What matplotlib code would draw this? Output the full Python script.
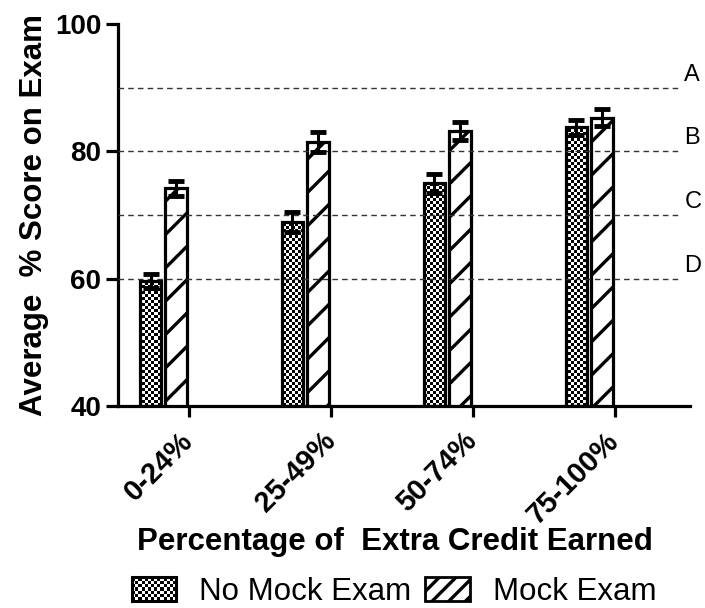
import matplotlib
matplotlib.use("Agg")
import matplotlib.pyplot as plt
import numpy as np
from matplotlib.patches import Patch, Rectangle
from matplotlib.legend_handler import HandlerPatch

plt.rcParams["font.family"] = ["Liberation Sans", "DejaVu Sans"]

categories = ["0-24%", "25-49%", "50-74%", "75-100%"]
no_mock = [59.7, 68.9, 75.0, 83.8]
no_mock_err = [1.1, 1.6, 1.5, 1.2]
mock = [74.2, 81.5, 83.2, 85.3]
mock_err = [1.2, 1.6, 1.4, 1.3]
grade_levels = [90, 80, 70, 60]
grade_labels = ["A", "B", "C", "D"]


class CheckerHandler(HandlerPatch):
    """Legend key drawn as a small checkerboard."""

    def create_artists(self, legend, orig_handle, xdescent, ydescent,
                       width, height, fontsize, trans):
        arts = []
        nx, ny = 14, 7
        cw, ch = width / nx, height / ny
        for i in range(nx):
            for j in range(ny):
                if (i + j) % 2 == 0:
                    arts.append(Rectangle((-xdescent + i * cw, -ydescent + j * ch),
                                          cw, ch, facecolor="black",
                                          edgecolor="none", transform=trans))
        arts.append(Rectangle((-xdescent, -ydescent), width, height,
                              facecolor="none", edgecolor="black", lw=2.2,
                              transform=trans))
        return arts


fig = plt.figure(figsize=(7.05, 6.08), dpi=100)
ax = fig.add_axes([118 / 705, (608 - 406) / 608, (690 - 118) / 705, 382 / 608])

x = np.arange(len(categories))
w = 0.152
x_no = x - 0.271
x_mk = x - 0.092

xlim = (-0.5, 3.53)
ylim = (40, 100)

# checkerboard texture, about 3 px per cell
checker = np.indices((127, 191)).sum(axis=0) % 2

plt.rcParams["hatch.linewidth"] = 2.4
bars_no = ax.bar(x_no, np.array(no_mock) - 40, w, bottom=40, facecolor="none",
                 edgecolor="black", lw=2.3, zorder=3)
for b in bars_no:
    im = ax.imshow(checker, extent=(*xlim, *ylim), cmap="gray_r",
                   interpolation="nearest", aspect="auto", zorder=2)
    im.set_clip_path(b)

ax.bar(x_mk, np.array(mock) - 40, w, bottom=40, facecolor="white",
       edgecolor="black", hatch="/", lw=2.3, zorder=3)

ax.errorbar(x_no, no_mock, yerr=no_mock_err, fmt="none", ecolor="black",
            elinewidth=2.2, capsize=6, capthick=3.5, zorder=5)
ax.errorbar(x_mk, mock, yerr=mock_err, fmt="none", ecolor="black",
            elinewidth=2.2, capsize=6, capthick=3.5, zorder=5)

ax.hlines(grade_levels, xlim[0], 3.45, colors="#333333", linestyles=(0, (4, 3)),
          lw=1.0, zorder=4)
for lvl, lab in zip(grade_levels, grade_labels):
    ax.text(3.49, lvl + 0.3, lab, fontsize=17, va="bottom", ha="left",
            clip_on=False)

ax.set_xlim(*xlim)
ax.set_ylim(*ylim)
ax.set_yticks([40, 60, 80, 100])
ax.set_xticks(x)
ax.set_xticklabels(categories, rotation=45, ha="right", va="center",
                   rotation_mode="anchor", fontsize=21, fontweight="bold")
for lab in ax.get_yticklabels():
    lab.set_fontsize(20)
    lab.set_fontweight("bold")

for s in ["top", "right"]:
    ax.spines[s].set_visible(False)
for s in ["left", "bottom"]:
    ax.spines[s].set_linewidth(2.3)
ax.tick_params(axis="y", length=9, width=2.3, pad=3)
ax.tick_params(axis="x", length=8, width=2.3, pad=14)

ax.set_ylabel("Average  % Score on Exam", fontsize=22.5, fontweight="bold",
              labelpad=4)
ax.set_xlabel("Percentage of  Extra Credit Earned", fontsize=22.5,
              fontweight="bold", va="center")
ax.xaxis.set_label_coords(0.484, -0.356)

handles = [Patch(facecolor="white", edgecolor="black"),
           Patch(facecolor="white", edgecolor="black", hatch="//", lw=2)]
fig.legend(handles, ["No Mock Exam", "Mock Exam"], ncol=2, frameon=False,
           loc="center", bbox_to_anchor=(0.559, 1 - 592 / 608), fontsize=22.5,
           borderpad=0, handlelength=1.41, handleheight=0.77, handletextpad=0.74,
           columnspacing=0.45, handler_map={handles[0]: CheckerHandler()})

fig.savefig("out.png", dpi=100)
